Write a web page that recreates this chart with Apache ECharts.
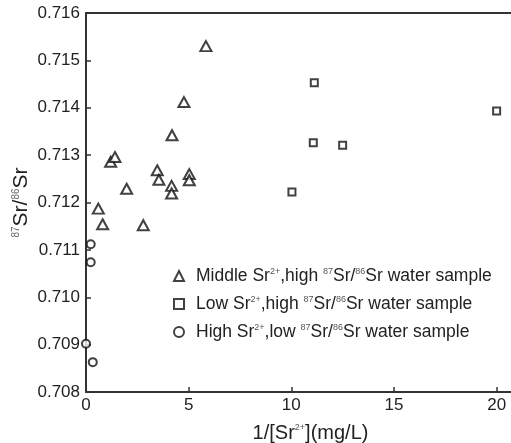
<!DOCTYPE html>
<html>
<head>
<meta charset="utf-8">
<script src="https://cdn.jsdelivr.net/npm/echarts@6/dist/echarts.min.js"></script>
<style>html,body{margin:0;padding:0;background:#fff}#c{width:511px;height:443px}</style>
</head>
<body>
<div id="c"></div>
<script>
// Middle Sr2+, high 87Sr/86Sr water samples: [1/[Sr2+], 87Sr/86Sr]
var middleSrX = [5.84, 4.77, 4.19, 1.20, 1.41, 1.98, 3.47, 3.55, 4.17, 4.17, 5.03, 5.03, 0.60, 0.81, 2.79];
var middleSrY = [0.71530, 0.71412, 0.71342, 0.71286, 0.71296, 0.71229, 0.71268, 0.71248, 0.71235, 0.71219, 0.71260, 0.71247, 0.71187, 0.71154, 0.71152];
// Low Sr2+, high 87Sr/86Sr water samples
var lowSrX = [20.0, 11.12, 11.07, 12.5, 10.03];
var lowSrY = [0.71393, 0.71453, 0.71326, 0.71321, 0.71222];
// High Sr2+, low 87Sr/86Sr water samples
var highSrX = [0.23, 0.23, 0.0, 0.33];
var highSrY = [0.71112, 0.71074, 0.70902, 0.70863];

var xTicks = [0, 5, 10, 15, 20];
var yTicks = [0.708, 0.709, 0.710, 0.711, 0.712, 0.713, 0.714, 0.715, 0.716];

var seriesNames = [
  'Middle Sr{sup|2+},high {sup|87}Sr/{sup|86}Sr water sample',
  'Low Sr{sup|2+},high {sup|87}Sr/{sup|86}Sr water sample',
  'High Sr{sup|2+},low {sup|87}Sr/{sup|86}Sr water sample'
];

function zip(xs, ys) { return xs.map(function (x, i) { return [x, ys[i]]; }); }

var font = 'Liberation Sans, Arial, sans-serif';
var axisColor = '#333';
var supStyle = { fontSize: 9, lineHeight: 10, verticalAlign: 'top', fontFamily: font, color: '#555' };
var supStyleBig = { fontSize: 10, lineHeight: 11, verticalAlign: 'top', fontFamily: font, color: '#666' };

var chart = echarts.init(document.getElementById('c'));
var symStyle = { color: '#fff', borderColor: '#111', borderWidth: 2 };
chart.setOption({
  animation: false,
  backgroundColor: '#fff',
  grid: { left: 86, right: 0, top: 13, bottom: 51, containLabel: false, outerBoundsMode: 'none' },
  legend: {
    orient: 'vertical',
    left: 168,
    top: 262,
    itemWidth: 10,
    itemHeight: 10,
    itemGap: 10,
    data: [
      { name: seriesNames[0], icon: 'triangle' },
      { name: seriesNames[1], icon: 'rect' },
      { name: seriesNames[2], icon: 'circle' }
    ],
    textStyle: {
      fontFamily: font, fontSize: 17.5, color: '#222', padding: [0, 0, 0, 7],
      rich: { sup: supStyle }
    }
  },
  xAxis: [{
    type: 'value', min: 0, max: 20.7, interval: 5,
    name: '1/[Sr{sup|2+}](mg/L)',
    nameLocation: 'middle', nameGap: 31, nameMoveOverlap: false,
    nameTextStyle: { fontFamily: font, fontSize: 20, color: '#222', padding: [0, 0, 0, 24],
      rich: { sup: supStyle } },
    axisLine: { lineStyle: { color: axisColor, width: 2 } },
    axisTick: { inside: true, length: 5, lineStyle: { color: axisColor, width: 1.5 }, customValues: xTicks },
    axisLabel: { fontFamily: font, fontSize: 17, color: '#222', margin: 5, customValues: xTicks },
    splitLine: { show: false }
  }, {
    type: 'value', position: 'top', min: 0, max: 20.7,
    axisLine: { show: true, lineStyle: { color: axisColor, width: 2 } },
    axisTick: { show: false }, axisLabel: { show: false }, splitLine: { show: false }
  }],
  yAxis: {
    type: 'value', min: 0.708, max: 0.716, interval: 0.001,
    name: '{sup|87}Sr/{sup|86}Sr',
    nameLocation: 'middle', nameRotate: 90, nameGap: 54, nameMoveOverlap: false,
    nameTextStyle: { fontFamily: font, fontSize: 21, color: '#222', padding: [0, 0, 0, 0], rich: { sup: supStyleBig } },
    axisLine: { show: true, lineStyle: { color: axisColor, width: 2 } },
    axisTick: { inside: true, length: 5, lineStyle: { color: axisColor, width: 1.5 } },
    axisLabel: { fontFamily: font, fontSize: 17, color: '#222', margin: 6,
      formatter: function (v) { return v.toFixed(3); } },
    splitLine: { show: false }
  },
  series: [
    { name: seriesNames[0], type: 'scatter', symbol: 'triangle', symbolSize: [11, 10],
      itemStyle: symStyle, data: zip(middleSrX, middleSrY) },
    { name: seriesNames[1], type: 'scatter', symbol: 'rect', symbolSize: 7,
      itemStyle: symStyle, data: zip(lowSrX, lowSrY) },
    { name: seriesNames[2], type: 'scatter', symbol: 'circle', symbolSize: 8,
      itemStyle: symStyle, data: zip(highSrX, highSrY) }
  ]
});
</script>
</body>
</html>
